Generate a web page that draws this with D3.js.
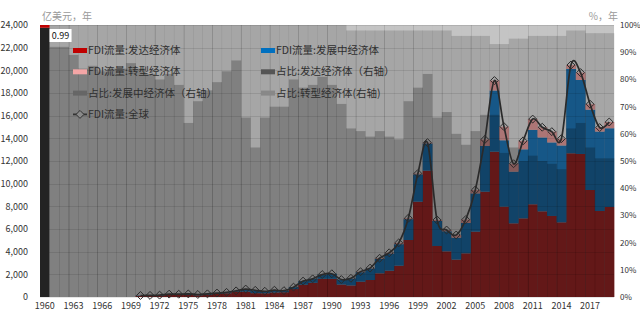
<!DOCTYPE html>
<html>
<head>
<meta charset="utf-8">
<script src="https://cdn.jsdelivr.net/npm/d3@7"></script>
<style>
body { margin: 0; background: #fff; }
svg { display: block; }
</style>
</head>
<body>
<script>
// years on the x axis
var years = d3.range(1960, 2020);

// FDI flows, 亿美元 (null = no data)
var fdiDeveloped = [null,null,null,null,null,null,null,null,null,null,
  100,110,130,200,180,180,150,200,270,330,
  470,470,340,330,400,420,700,1080,1250,1600,
  1600,1100,1020,1350,1500,2090,2320,2760,5030,8410,
  11145,4500,4030,3300,3855,5765,9290,12820,7970,6500,
  6940,8180,7560,7150,6590,12680,12620,9440,7590,7940];
var fdiDeveloping = [null,null,null,null,null,null,null,null,null,null,
  33,32,36,54,66,92,72,78,77,79,
  70,230,250,175,200,140,170,320,350,380,
  450,440,610,840,1020,1270,1520,1900,1840,2410,
  2405,2210,1770,1930,2675,3375,4040,5400,5860,4560,
  6090,6570,6520,6490,6780,7440,6530,7090,7010,6950];
var fdiTransition = [null,null,null,null,null,null,null,null,null,null,
  0,0,0,0,0,0,0,0,0,0,
  0,0,0,0,0,0,0,0,0,0,
  0,0,20,40,30,60,60,120,80,80,
  70,90,110,240,300,300,570,880,1200,700,
  750,950,900,950,600,350,650,480,350,550];
var fdiGlobal = [null,null,null,null,null,null,null,null,null,null,
  133,142,166,254,246,272,222,278,347,409,
  540,700,590,505,600,560,870,1400,1600,1980,
  2050,1540,1650,2230,2550,3420,3900,4780,6950,10900,
  13620,6800,5910,5470,6830,9440,13900,19100,15030,11760,
  13780,15700,14980,14590,13970,20470,19800,17010,14950,15440];

// shares (right axis)
var shareDeveloped = [0.99,0.92,0.92,0.89,0.84,0.85,0.83,0.84,0.84,0.86,
  0.84,0.82,0.80,0.82,0.78,0.64,0.72,0.76,0.79,0.83,
  0.87,0.66,0.55,0.66,0.70,0.70,0.80,0.77,0.78,0.81,
  0.78,0.71,0.62,0.61,0.59,0.61,0.59,0.58,0.72,0.77,
  0.82,0.66,0.68,0.60,0.56,0.61,0.67,0.67,0.53,0.55,
  0.50,0.52,0.50,0.49,0.47,0.62,0.64,0.55,0.51,0.51];
var shareDeveloping = [0.01,0.08,0.08,0.11,0.16,0.15,0.17,0.16,0.16,0.14,
  0.16,0.18,0.20,0.18,0.22,0.36,0.28,0.24,0.21,0.17,
  0.13,0.34,0.45,0.34,0.30,0.30,0.20,0.23,0.22,0.19,
  0.22,0.29,0.36,0.37,0.39,0.37,0.39,0.40,0.26,0.21,
  0.16,0.32,0.30,0.36,0.40,0.35,0.29,0.26,0.40,0.40,
  0.45,0.44,0.46,0.47,0.49,0.36,0.34,0.42,0.46,0.46];
var shareTransition = [0,0,0,0,0,0,0,0,0,0,
  0,0,0,0,0,0,0,0,0,0,
  0,0,0,0,0,0,0,0,0,0,
  0,0,0.02,0.02,0.02,0.02,0.02,0.02,0.02,0.02,
  0.02,0.02,0.02,0.04,0.04,0.04,0.04,0.07,0.07,0.05,
  0.05,0.04,0.04,0.04,0.04,0.02,0.02,0.03,0.03,0.03];

var leftTicks = d3.range(0, 24001, 2000);
var rightTicks = d3.range(0, 11).map(function(d) { return d / 10; });
var tickYears = d3.range(1960, 2020, 3);
var highlightLabel = "0.99";

var legendNames = ["FDI流量:发达经济体", "FDI流量:发展中经济体", "FDI流量:转型经济体",
  "占比:发达经济体（右轴）", "占比:发展中经济体（右轴）", "占比:转型经济体(右轴)", "FDI流量:全球"];
var legendColors = ["#c00000", "#0070c0", "#f4a6a6", "#555555", "#666666", "#888888", "#333333"];

var margin = {top: 25, right: 26, bottom: 17, left: 40},
    width = 640 - margin.left - margin.right,
    height = 314 - margin.top - margin.bottom;

var font = "'Noto Sans CJK SC', 'Noto Sans', sans-serif";

var svg = d3.select("body").append("svg")
    .attr("width", 640)
    .attr("height", 314)
    .style("font-family", font);

var g = svg.append("g")
    .attr("transform", "translate(" + margin.left + "," + margin.top + ")");

var x = d3.scaleBand().domain(years).range([0, width]).padding(0);
var y = d3.scaleLinear().domain([0, 24000]).range([height, 0]);
var y2 = d3.scaleLinear().domain([0, 1]).range([height, 0]);

// plot background
g.append("rect").attr("width", width).attr("height", height).attr("fill", "#cbcbcb");

// FDI stacked bars
var rows = years.map(function(yr, i) {
  return {year: yr, developed: fdiDeveloped[i] || 0, developing: fdiDeveloping[i] || 0, transition: fdiTransition[i] || 0};
});
var fdiKeys = ["developed", "developing", "transition"];
var fdiFill = {developed: "#9d2626", developing: "#1c6ba5", transition: "#d28f8f"};
var fdiStack = d3.stack().keys(fdiKeys)(rows);

g.append("g").selectAll("g")
  .data(fdiStack)
  .enter().append("g")
    .attr("fill", function(d) { return fdiFill[d.key]; })
  .selectAll("rect")
  .data(function(d) { return d; })
  .enter().append("rect")
    .attr("x", function(d) { return x(d.data.year); })
    .attr("width", x.bandwidth() + 0.3)
    .attr("y", function(d) { return y(d[1]); })
    .attr("height", function(d) { return y(d[0]) - y(d[1]); });

// share layers drawn as darkening overlays
var shareRows = years.map(function(yr, i) {
  return {year: yr, developed: shareDeveloped[i], developing: shareDeveloping[i], transition: shareTransition[i]};
});
var shareStack = d3.stack().keys(fdiKeys)(shareRows.slice(1));
var shareOpacity = {developed: 0.37, developing: 0.18, transition: 0.03};

g.append("g").selectAll("g")
  .data(shareStack)
  .enter().append("g")
    .attr("fill", "#000")
    .attr("fill-opacity", function(d) { return shareOpacity[d.key]; })
  .selectAll("rect")
  .data(function(d) { return d; })
  .enter().append("rect")
    .attr("x", function(d) { return x(d.data.year); })
    .attr("width", x.bandwidth() + 0.3)
    .attr("y", function(d) { return y2(d[1]); })
    .attr("height", function(d) { return y2(d[0]) - y2(d[1]); });

// gridlines
g.append("g").selectAll("line")
  .data(leftTicks)
  .enter().append("line")
    .attr("x1", 0).attr("x2", width)
    .attr("y1", function(d) { return Math.round(y(d)) + 0.5; })
    .attr("y2", function(d) { return Math.round(y(d)) + 0.5; })
    .attr("stroke", "rgba(0,0,0,0.1)");
g.append("g").selectAll("line")
  .data(tickYears)
  .enter().append("line")
    .attr("y1", 0).attr("y2", height)
    .attr("x1", function(d) { return Math.round(x(d)) + 0.5; })
    .attr("x2", function(d) { return Math.round(x(d)) + 0.5; })
    .attr("stroke", "rgba(0,0,0,0.1)");

// highlighted 1960 column
var first = shareRows[0];
g.append("rect")
  .attr("x", x(first.year)).attr("width", x.bandwidth())
  .attr("y", y2(first.developed)).attr("height", y2(0) - y2(first.developed))
  .attr("fill", "#232323");
g.append("rect")
  .attr("x", x(first.year)).attr("width", x.bandwidth())
  .attr("y", y2(1)).attr("height", y2(first.developed) - y2(1))
  .attr("fill", "#c00000");

// global line
var pts = years.map(function(yr, i) { return {year: yr, v: fdiGlobal[i]}; })
  .filter(function(d) { return d.v != null; });
var line = d3.line()
  .x(function(d) { return x(d.year) + x.bandwidth() / 2; })
  .y(function(d) { return y(d.v); })
  .curve(d3.curveCardinal);

g.append("path")
  .datum(pts)
  .attr("d", line)
  .attr("fill", "none")
  .attr("stroke", "#2a2a2a")
  .attr("stroke-width", 1.7);

var diamond = d3.symbol().type(d3.symbolDiamond2).size(40);
g.append("g").selectAll("path")
  .data(pts)
  .enter().append("path")
    .attr("d", diamond)
    .attr("transform", function(d) { return "translate(" + (x(d.year) + x.bandwidth() / 2) + "," + y(d.v) + ")"; })
    .attr("fill", "none")
    .attr("stroke", "#2a2a2a")
    .attr("stroke-width", 1);

// legend
var legend = g.append("g").selectAll("g")
  .data(legendNames)
  .enter().append("g")
    .attr("transform", function(d, i) {
      return "translate(" + (i % 2 === 0 ? 33 : 221) + "," + (25.5 + Math.floor(i / 2) * 21.3) + ")";
    });

legend.each(function(d, i) {
  var el = d3.select(this);
  if (i === 6) {
    el.append("line").attr("x1", 0).attr("x2", 14).attr("y1", 0).attr("y2", 0)
      .attr("stroke", legendColors[i]).attr("stroke-width", 1.8);
    el.append("path").attr("d", diamond).attr("transform", "translate(7,0)")
      .attr("fill", "#8a8a8a").attr("stroke", legendColors[i]);
  } else {
    el.append("rect").attr("x", 0).attr("y", -2.5).attr("width", 14).attr("height", 5)
      .attr("fill", legendColors[i]);
  }
  el.append("text")
    .attr("x", 15).attr("y", 0).attr("dy", "0.35em")
    .style("font-size", "10.5px")
    .attr("fill", "#2f2f2f")
    .text(d);
});

// data label
g.append("rect")
  .attr("x", x(1960) + x.bandwidth()).attr("y", 4)
  .attr("width", 22).attr("height", 13).attr("fill", "#fff");
g.append("text")
  .attr("x", x(1960) + x.bandwidth() + 11).attr("y", 10.5).attr("dy", "0.35em")
  .attr("text-anchor", "middle")
  .style("font-size", "9px")
  .attr("fill", "#111")
  .text(highlightLabel);

// axes
var yAxisL = d3.axisLeft(y).tickValues(leftTicks).tickSize(0).tickPadding(12)
  .tickFormat(d3.format(","));
var yAxisR = d3.axisRight(y2).tickValues(rightTicks).tickSize(0).tickPadding(6)
  .tickFormat(d3.format(".0%"));
var xAxis = d3.axisBottom(x).tickValues(tickYears).tickSize(0).tickPadding(6);

g.append("g").attr("class", "ax").call(yAxisL);
g.append("g").attr("class", "ax axr").attr("transform", "translate(" + width + ",0)").call(yAxisR);
g.append("g").attr("class", "ax").attr("transform", "translate(0," + height + ")").call(xAxis);

g.selectAll(".domain").remove();
g.selectAll(".ax .tick text")
  .style("font-family", font)
  .style("font-size", "9px")
  .attr("fill", "#333");
g.selectAll(".axr .tick text").style("font-size", "8px");

// unit titles
svg.append("text").attr("x", 42).attr("y", 16).attr("dy", "0.35em")
  .style("font-size", "10px").attr("fill", "#9a9a9a").text("亿美元，年");
svg.append("text").attr("x", 618).attr("y", 16).attr("dy", "0.35em")
  .attr("text-anchor", "end")
  .style("font-size", "10px").attr("fill", "#9a9a9a").text("%，年");
</script>
</body>
</html>
